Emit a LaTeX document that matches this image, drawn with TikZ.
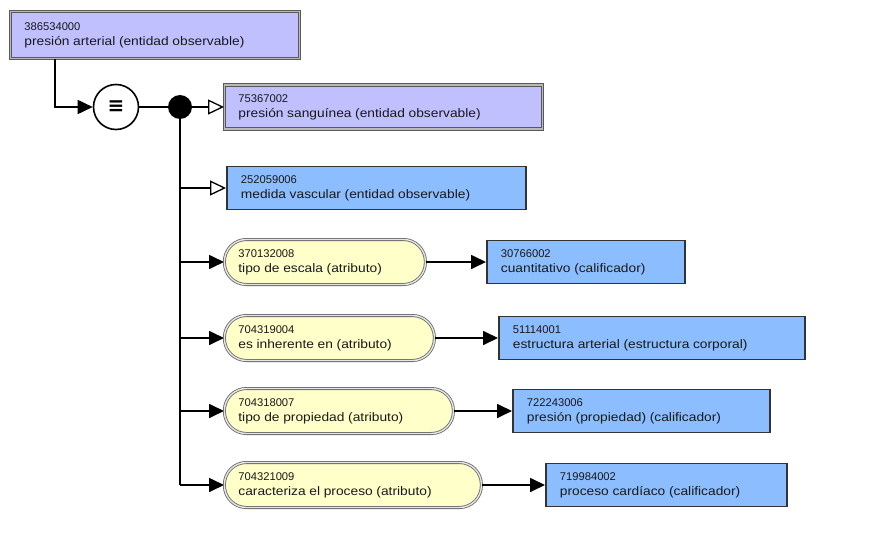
\documentclass[tikz,border=0pt]{standalone}
\usepackage{fontspec}
\setmainfont{Liberation Sans}
\newfontfamily\namefont[FakeStretch=1.12]{Liberation Sans}
\newfontfamily\symfont{DejaVu Sans}
\usetikzlibrary{arrows.meta,positioning,calc}

\definecolor{defbg}{RGB}{192,192,255}
\definecolor{primbg}{RGB}{140,190,255}
\definecolor{attrbg}{RGB}{255,255,202}

% concept id on the first line, concept name on the second
\newcommand{\sct}[2]{{\fontsize{11.2}{15}\selectfont #1}\\{\namefont\fontsize{12.3}{15}\selectfont #2}}

\tikzset{
  sctbox/.style={rectangle, anchor=west, align=left, inner xsep=14pt, inner ysep=0pt,
    text=black!90, font=\fontsize{11}{15}\selectfont},
  defined/.style={sctbox, fill=defbg, draw=black!65, double=gray!55, double distance=1.6pt,
    line width=0.8pt, minimum height=44pt},
  primitive/.style={sctbox, fill=primbg, draw=black!80, line width=1.8pt, minimum height=43pt},
  attr/.style={sctbox, fill=attrbg, draw=black!60, double=gray!20, double distance=1.4pt,
    line width=0.8pt, rounded corners=22pt, minimum height=45pt},
  link/.style={line width=1.7pt},
  isa/.style={link, -{Triangle[open, length=16pt, width=15pt, fill=white, line width=1.3pt]}},
  has/.style={link, -{Triangle[length=15pt, width=14pt]}},
}

\begin{document}
\begin{tikzpicture}[x=1pt, y=-1pt]
  \useasboundingbox (0,0) rectangle (886,535);

  \node[defined, text width=261pt, minimum height=47pt] (top) at (10,35)
    {\sct{386534000}{presión arterial (entidad observable)}};
  \node[circle, draw, line width=1.6pt, fill=white, minimum size=45pt, inner sep=0pt] (eq) at (116,107)
    {\symfont\bfseries\fontsize{20}{20}\selectfont ≡};
  \node[circle, fill=black, minimum size=24pt, inner sep=0pt] (dot) at (180,107) {};

  \node[defined, text width=290pt] (b2) at (224,107)
    {\sct{75367002}{presión sanguínea (entidad observable)}};
  \node[primitive, text width=271pt] (b3) at (226,188)
    {\sct{252059006}{medida vascular (entidad observable)}};

  \node[attr, text width=173pt] (a1) at (224,262) {\sct{370132008}{tipo de escala (atributo)}};
  \node[primitive, text width=170pt] (v1) at (486,262) {\sct{30766002}{cuantitativo (calificador)}};
  \node[attr, text width=182pt] (a2) at (224,338) {\sct{704319004}{es inherente en (atributo)}};
  \node[primitive, text width=278pt] (v2) at (498,338) {\sct{51114001}{estructura arterial (estructura corporal)}};
  \node[attr, text width=201pt] (a3) at (224,411) {\sct{704318007}{tipo de propiedad (atributo)}};
  \node[primitive, text width=229pt] (v3) at (512,411) {\sct{722243006}{presión (propiedad) (calificador)}};
  \node[attr, text width=229pt] (a4) at (224,485) {\sct{704321009}{caracteriza el proceso (atributo)}};
  \node[primitive, text width=213pt] (v4) at (545,485) {\sct{719984002}{proceso cardíaco (calificador)}};

  \draw[has] ([xshift=45pt]top.south west) |- (eq);
  \draw[link] (eq) -- (dot);
  \draw[isa] (dot) -- (b2);
  \draw[link] (dot) -- (dot |- a4);
  \draw[isa] (dot |- b3) -- (b3);
  \foreach \i in {1,...,4}{
    \draw[has] (dot |- a\i) -- (a\i);
    \draw[has] (a\i) -- (v\i);
  }
\end{tikzpicture}
\end{document}
